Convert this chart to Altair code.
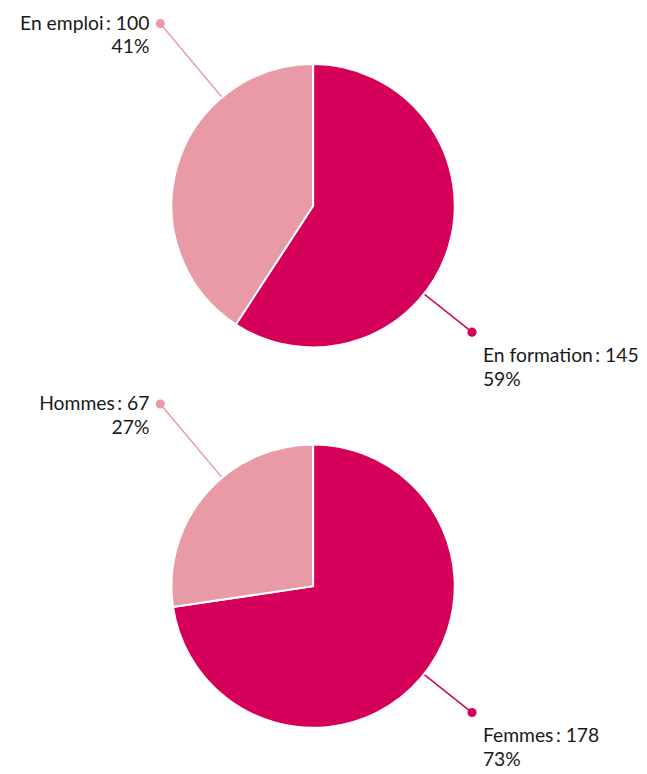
import altair as alt
import pandas as pd

# ---- data ----
cats_top = ["En formation", "En emploi"]
vals_top = [145, 100]
cats_bot = ["Femmes", "Hommes"]
vals_bot = [178, 67]
colors = ["#D5005A", "#E89BA6"]

# ---- layout constants ----
W = 631
R = 143


def panel(cats, vals, H, cx, cy):
    total = sum(vals)
    pcts = [f"{round(v * 100 / total)}%" for v in vals]
    df = pd.DataFrame({
        "cat": cats,
        "val": vals,
        "idx": list(range(len(cats))),
        "label": [f"{c}\u2009: {v}\n{p}" for c, v, p in zip(cats, vals, pcts)],
    })
    xs = alt.Scale(domain=[0, W], nice=False, zero=False)
    ys = alt.Scale(domain=[H, 0], nice=False, zero=False)
    color = alt.Color("cat:N", scale=alt.Scale(domain=cats, range=colors), legend=None)

    base = alt.Chart(df).properties(width=W, height=H)

    pie = base.mark_arc(radius=R, stroke="white", strokeWidth=2).encode(
        theta=alt.Theta("val:Q", stack=True),
        color=color,
        order=alt.Order("idx:Q"),
        x=alt.value(cx),
        y=alt.value(cy),
    )

    geo = base.transform_calculate(
        ang="(datum.idx == 0 ? 128.5 : 320) * PI / 180",
        r2="datum.idx == 0 ? 205 : 240",
    ).transform_calculate(
        x0=f"{cx} + {R} * sin(datum.ang)",
        y0=f"{cy} - {R} * cos(datum.ang)",
        x1=f"{cx} + datum.r2 * sin(datum.ang)",
        y1=f"{cy} - datum.r2 * cos(datum.ang)",
    ).transform_calculate(
        tx="datum.x1 + (datum.idx == 0 ? 11 : -11)",
        ty="datum.y1 + (datum.idx == 0 ? 30 : 6)",
    )

    rule = geo.mark_rule(strokeWidth=1.5).encode(
        x=alt.X("x0:Q", scale=xs, axis=None),
        y=alt.Y("y0:Q", scale=ys, axis=None),
        x2="x1:Q",
        y2="y1:Q",
        color=color,
    )
    dot = geo.mark_circle(size=85, opacity=1).encode(
        x=alt.X("x1:Q", scale=xs, axis=None),
        y=alt.Y("y1:Q", scale=ys, axis=None),
        color=color,
    )
    txt_props = dict(font="Lato", fontSize=19.5, lineBreak="\n",
                     lineHeight=24, baseline="alphabetic", color="#1a1a1a")
    txt_right = geo.transform_filter("datum.idx == 0").mark_text(align="left", **txt_props).encode(
        x=alt.X("tx:Q", scale=xs, axis=None),
        y=alt.Y("ty:Q", scale=ys, axis=None),
        text="label:N",
    )
    txt_left = geo.transform_filter("datum.idx == 1").mark_text(align="right", **txt_props).encode(
        x=alt.X("tx:Q", scale=xs, axis=None),
        y=alt.Y("ty:Q", scale=ys, axis=None),
        text="label:N",
    )
    return alt.layer(rule, pie, dot, txt_right, txt_left)


top = panel(cats_top, vals_top, 380, 308, 196)
bot = panel(cats_bot, vals_bot, 378, 308, 198)

chart = alt.vconcat(top, bot, spacing=0).properties(padding=0).configure_view(stroke=None)

chart.save("out.html", embed_options={"renderer": "svg", "actions": False})
